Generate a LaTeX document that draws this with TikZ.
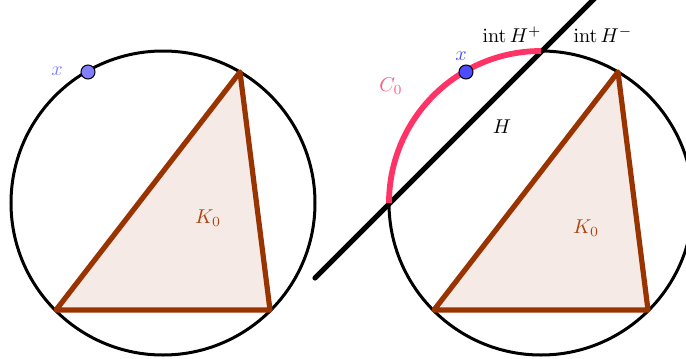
\documentclass[tikz,border=0pt]{standalone}
\usepackage{amsmath}
\begin{document}
\begin{tikzpicture}[x=0.5pt,y=-0.5pt,
  circ/.style={line width=1.5pt,black},
  tri/.style={line width=2.6pt,draw=brown1,fill=brown1,fill opacity=0.1,draw opacity=1,line join=round},
  hline/.style={line width=2.6pt,black,line cap=round},
  arcc/.style={line width=2.9pt,pink1},
  dot/.style={circle,draw=black,line width=0.5pt,inner sep=0pt,minimum size=7pt},
  lab/.style={inner sep=0pt,font=\normalsize}]
\definecolor{brown1}{RGB}{153,51,0}
\definecolor{klab}{RGB}{170,70,20}
\definecolor{pink1}{RGB}{255,51,102}
\definecolor{pinklab}{RGB}{255,90,130}
\definecolor{blue1}{RGB}{128,128,255}
\definecolor{blue2}{RGB}{77,77,255}
\useasboundingbox (0,0) rectangle (686,359);
\clip (0,0) rectangle (686,359);
% left
\coordinate (LA) at (56,310);
\coordinate (LB) at (240,72);
\coordinate (LC) at (270,310);
\coordinate (LO) at (163,203);
\draw[circ] (LO) circle[radius=76pt];
\filldraw[tri] (LA) -- (LB) -- (LC) -- cycle;
\node[dot,fill=blue1] (lx) at (88,72) {};
\node[lab,text=blue1] (lxl) at (57,71) {$x$};
\node[lab,text=klab] (lk) at (208,218) {$K_0$};
% right
\coordinate (RA) at (434,310);
\coordinate (RB) at (618,72);
\coordinate (RC) at (648,310);
\coordinate (RO) at (541,203);
\draw[circ] (RO) circle[radius=76pt];
\filldraw[tri] (RA) -- (RB) -- (RC) -- cycle;
\coordinate (H1) at (315,278);
\coordinate (H2) at (596,-3);
\draw[hline] (H1) -- (H2);
\draw[arcc] (389,203) arc[start angle=180,end angle=90,radius=76pt];
\node[dot,fill=blue2] (rx) at (466,72) {};
\node[lab,text=blue2] (rxl) at (461,56) {$x$};
\node[lab,text=pinklab] (c0) at (391,86) {$C_0$};
\node[lab] (hp) at (512,35) {$\operatorname{int} H^{+}$};
\node[lab] (hm) at (603,35) {$\operatorname{int} H^{-}$};
\node[lab] (h) at (502,127) {$H$};
\node[lab,text=klab] (rk) at (586,228) {$K_0$};
\end{tikzpicture}
\end{document}
